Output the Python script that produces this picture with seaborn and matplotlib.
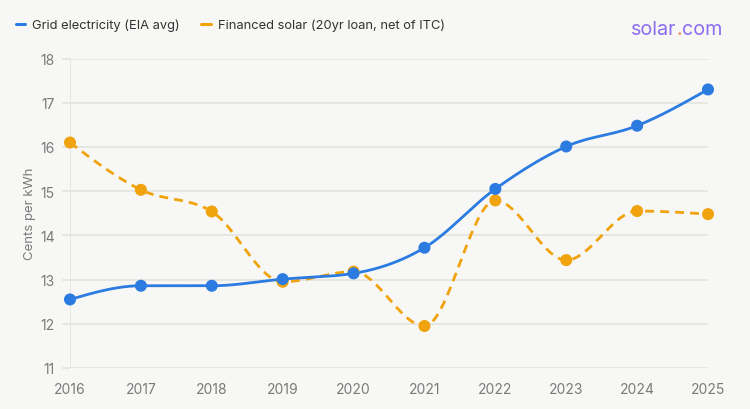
import numpy as np
import pandas as pd
import matplotlib
matplotlib.use("Agg")
import matplotlib.pyplot as plt
import seaborn as sns
from matplotlib.lines import Line2D

years = [2016, 2017, 2018, 2019, 2020, 2021, 2022, 2023, 2024, 2025]
grid = [12.55, 12.86, 12.86, 13.01, 13.14, 13.72, 15.05, 16.01, 16.48, 17.30]
solar = [16.10, 15.03, 14.54, 12.95, 13.18, 11.95, 14.79, 13.44, 14.55, 14.48]
yticks = [11, 12, 13, 14, 15, 16, 17, 18]
labels = ["Grid electricity (EIA avg)", "Financed solar (20yr loan, net of ITC)"]

BLUE = "#2b7be0"
ORANGE = "#f0a30c"
BG = "#f7f7f5"
GRIDC = "#e3e3dd"
TICKC = "#7a7a7a"

sns.set_theme(style="white")
plt.rcParams["font.family"] = ["Inter", "DejaVu Sans"]

W, H = 750, 410
fig = plt.figure(figsize=(W / 100, H / 100), dpi=100, facecolor=BG)
ax = fig.add_axes([70 / W, 1 - 369 / H, (708 - 70) / W, (369 - 59.5) / H])
ax.set_facecolor(BG)
ax.set_xlim(2016, 2025)
ax.set_ylim(11, 18)


def monotone(xs, ys, n=40):
    """Monotone-X cubic curve (as d3.curveMonotoneX) through the data points."""
    x = np.array(xs, float)
    y = np.array(ys, float)
    m = len(x)
    h = np.diff(x)
    s = np.diff(y) / h
    t = np.zeros(m)
    for i in range(1, m - 1):
        s0, s1 = s[i - 1], s[i]
        h0, h1 = h[i - 1], h[i]
        p = (s0 * h1 + s1 * h0) / (h0 + h1)
        t[i] = (np.sign(s0) + np.sign(s1)) * min(abs(s0), abs(s1), 0.5 * abs(p))
    t[0] = (3 * s[0] - t[1]) / 2
    t[-1] = (3 * s[-1] - t[-2]) / 2
    outx, outy = [], []
    u = np.linspace(0, 1, n)
    for i in range(m - 1):
        dx = h[i] / 3
        P = [(x[i], y[i]), (x[i] + dx, y[i] + dx * t[i]),
             (x[i + 1] - dx, y[i + 1] - dx * t[i + 1]), (x[i + 1], y[i + 1])]
        c = [(1 - u) ** 3, 3 * (1 - u) ** 2 * u, 3 * (1 - u) * u ** 2, u ** 3]
        outx.extend(sum(c[k] * P[k][0] for k in range(4)))
        outy.extend(sum(c[k] * P[k][1] for k in range(4)))
    return np.array(outx), np.array(outy)


gx, gy = monotone(years, grid)
ox, oy = monotone(years, solar)

for v in yticks:
    ax.axhline(v, color=GRIDC, lw=1.1, zorder=0)
ax.axvline(2016, color=GRIDC, lw=1.1, zorder=0)

sns.lineplot(x=ox, y=oy, sort=False, ax=ax, color=ORANGE, lw=2.0,
             linestyle=(0, (3.2, 2.2)), zorder=3)
sns.lineplot(x=gx, y=gy, sort=False, ax=ax, color=BLUE, lw=2.0, zorder=4)

df = pd.DataFrame({"year": years, "grid": grid, "solar": solar})
sns.scatterplot(data=df, x="year", y="solar", ax=ax, color=ORANGE, s=75,
                edgecolor="none", zorder=5, clip_on=False)
sns.scatterplot(data=df, x="year", y="grid", ax=ax, color=BLUE, s=75,
                edgecolor="none", zorder=6, clip_on=False)

for sp in ax.spines.values():
    sp.set_visible(False)
ax.set_xticks(years)
ax.set_xticklabels([str(y) for y in years])
ax.set_yticks(yticks)
ax.set_yticklabels([str(v) for v in yticks])
ax.tick_params(axis="x", length=0, pad=10, labelsize=10, labelcolor=TICKC)
ax.tick_params(axis="y", length=6, width=1.1, color=GRIDC, pad=5,
               labelsize=10, labelcolor=TICKC, left=True)
ax.set_xlabel("")
ax.set_ylabel("Cents per kWh", fontsize=9.5, color=TICKC, labelpad=3)
ax.grid(False)

handles = [Line2D([0], [0], color=BLUE, lw=2.2),
           Line2D([0], [0], color=ORANGE, lw=2.2)]
leg = fig.legend(handles, labels, loc="center left",
                 bbox_to_anchor=(4 / W, 1 - 26 / H), ncol=2, frameon=False,
                 handlelength=0.75, handletextpad=0.5, columnspacing=1.7,
                 fontsize=9.3)
for tx in leg.get_texts():
    tx.set_color("#333333")

PURPLE = "#8b6df0"
FS = 14.2
t1 = fig.text(631 / W, 1 - 30 / H, "solar", fontsize=FS, color=PURPLE,
              va="center", ha="left")
fig.canvas.draw()
bb = t1.get_window_extent()
t2 = fig.text(bb.x1 / W, 1 - 30 / H, ".", fontsize=FS, color="#f28a5c",
              va="center", ha="left")
bb2 = t2.get_window_extent()
fig.text(bb2.x1 / W, 1 - 30 / H, "com", fontsize=FS, color=PURPLE,
         va="center", ha="left")

fig.savefig("out.png", dpi=100, facecolor=BG)
